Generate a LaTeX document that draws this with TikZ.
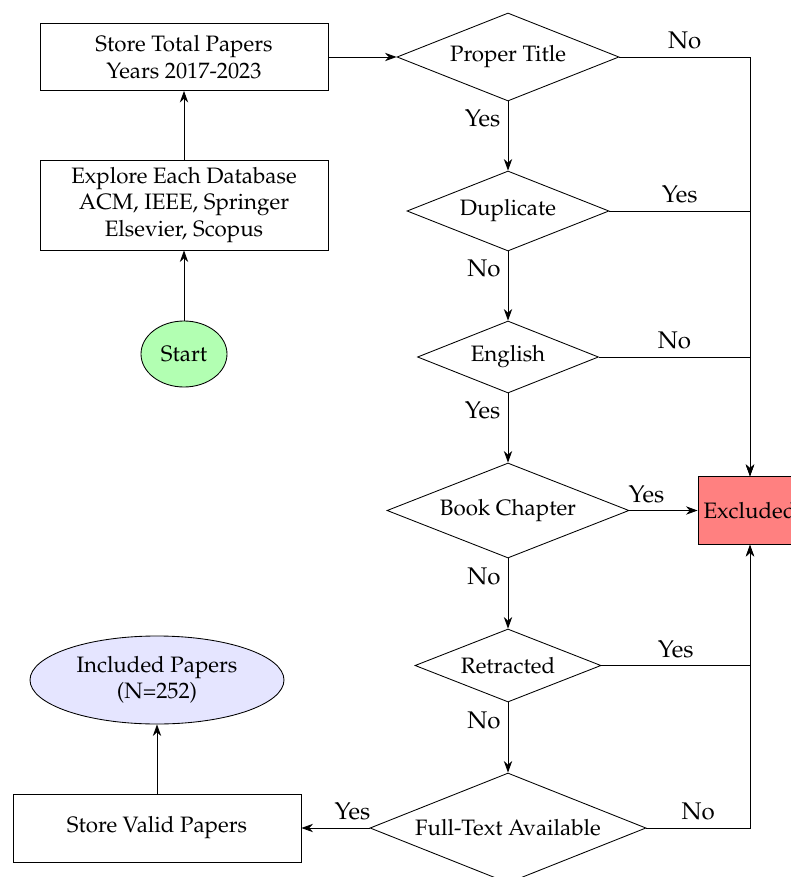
\documentclass[tikz,border=0pt]{standalone}
\usepackage[T1]{fontenc}
\usepackage{mathpazo}
\usetikzlibrary{shapes.geometric,arrows.meta}
\newlength\pxu
\setlength\pxu{0.4651pt}
\begin{document}
\begin{tikzpicture}[x=\pxu,y=-\pxu,
  nodefont/.style={font=\fontsize{10.37}{12.3}\selectfont},
  box/.style={draw, rectangle, minimum width=288*\pxu, align=center, inner sep=0pt, nodefont},
  dec/.style={draw, diamond, inner sep=0pt, align=center, nodefont, shape aspect=2.5},
  oval/.style={draw, ellipse, inner sep=0pt, align=center, nodefont},
  lbl/.style={font=\fontsize{11.2}{13}\selectfont},
  arr/.style={-{Stealth[length=5.4pt,width=3.9pt]}}]
\useasboundingbox (0,0) rectangle (791,877);
\clip (0,0) rectangle (791,877);
% nodes
\node[box, minimum height=67*\pxu] (store) at (184,57) {Store Total Papers\\Years 2017-2023};
\node[box, minimum height=90*\pxu] (explore) at (184,205) {Explore Each Database\\ACM, IEEE, Springer\\Elsevier, Scopus};
\node[oval, fill=green!30, minimum width=86*\pxu, minimum height=66*\pxu] (start) at (184,354) {Start};
\node[dec, minimum width=222*\pxu, minimum height=88*\pxu] (title) at (508,57) {Proper Title};
\node[dec, minimum width=202*\pxu, minimum height=80*\pxu] (dup) at (508,211) {Duplicate};
\node[dec, minimum width=181*\pxu, minimum height=72*\pxu] (eng) at (508,357) {English};
\node[dec, minimum width=242*\pxu, minimum height=95*\pxu] (book) at (508,510.5) {Book Chapter};
\node[dec, minimum width=186*\pxu, minimum height=73*\pxu] (retr) at (508,665.5) {Retracted};
\node[dec, minimum width=276*\pxu, minimum height=110*\pxu] (full) at (508,828) {Full-Text Available};
\node[draw, rectangle, fill=red!50, inner sep=0pt, nodefont, minimum width=104*\pxu, minimum height=68*\pxu] (excl) at (750,510.5) {Excluded};
\node[box, minimum height=68*\pxu] (valid) at (157,828) {Store Valid Papers};
\node[oval, fill=blue!10, minimum width=254*\pxu, minimum height=88*\pxu] (incl) at (157,680) {Included Papers\\(N=252)};
% connectors
\draw[arr] (start) -- (explore);
\draw[arr] (explore) -- (store);
\draw[arr] (store) -- (title);
\draw[arr] (title) -- node[lbl, left, near start] {Yes} (dup);
\draw[arr] (dup) -- node[lbl, left, near start] {No} (eng);
\draw[arr] (eng) -- node[lbl, left, near start] {Yes} (book);
\draw[arr] (book) -- node[lbl, left, near start] {No} (retr);
\draw[arr] (retr) -- node[lbl, left, near start] {No} (full);
\draw[arr] (title) -| node[lbl, above, near start] {No} (excl);
\draw[arr] (dup) -| node[lbl, above, near start] {Yes} (excl);
\draw[arr] (eng) -| node[lbl, above, near start] {No} (excl);
\draw[arr] (book) -- node[lbl, above, near start] {Yes} (excl);
\draw[arr] (retr) -| node[lbl, above, near start] {Yes} (excl);
\draw[arr] (full) -| node[lbl, above, near start] {No} (excl);
\draw[arr] (full) -- node[lbl, above, near start] {Yes} (valid);
\draw[arr] (valid) -- (incl);
\end{tikzpicture}
\end{document}
